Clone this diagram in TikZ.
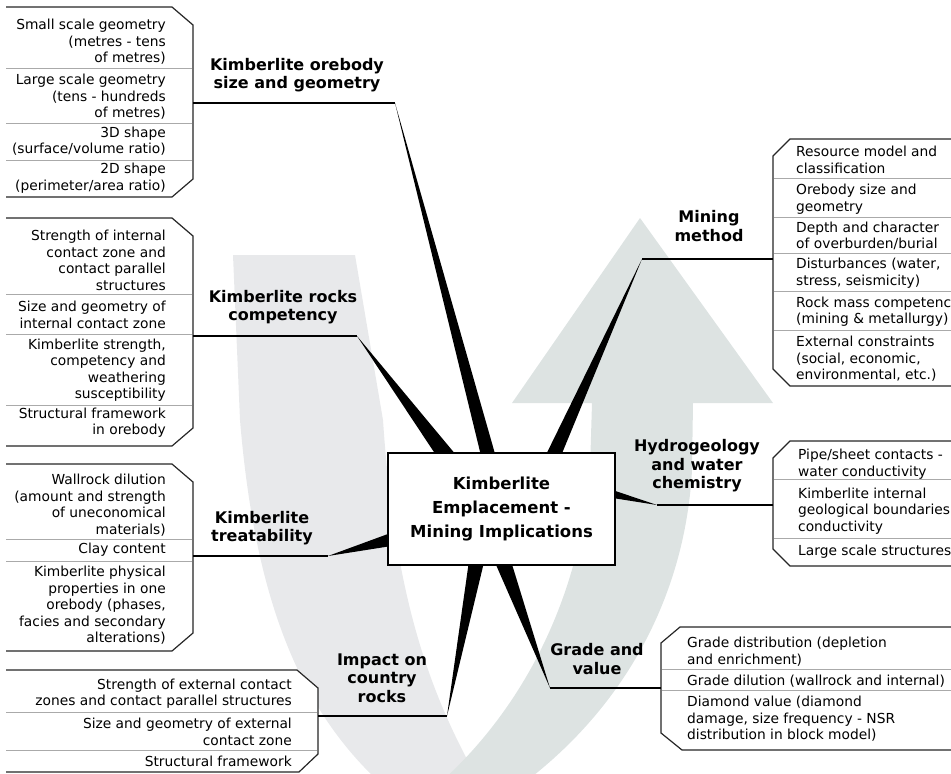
\documentclass[tikz,border=0pt]{standalone}
\usepackage{fontspec}
\setmainfont{DejaVu Sans}
\usepackage{tikz}
\usetikzlibrary{calc}
\definecolor{bandgrey}{RGB}{232,233,235}
\definecolor{bandgreen}{RGB}{221,227,226}
\definecolor{divgrey}{RGB}{170,170,170}
\tikzstyle{item} = [inner sep=0pt, font=\fontsize{13.8}{16.5}\selectfont]
\tikzstyle{leftitem} = [item, anchor=east, align=right]
\tikzstyle{rightitem} = [item, anchor=west, align=left]
\tikzstyle{topic} = [inner sep=0pt, align=center, font=\fontsize{16}{18.5}\selectfont\bfseries]
\tikzstyle{lead} = [line width=1.3pt, black]
\tikzstyle{listbox} = [line width=1.2pt, draw=black!85, fill=white]
\tikzstyle{divider} = [line width=0.8pt, divgrey]

\begin{document}
\begin{tikzpicture}[x=1pt, y=-1pt]
    \tikzset{spoke/.style = {fill=black},
    hubbox/.style = {draw, line width=2.5pt, fill=white, minimum width=227pt, minimum height=112pt, align=center, font=\fontsize{16.5}{24}\selectfont\bfseries}}

\clip (0,0) rectangle (951,774);

\fill[bandgrey] (233,255) -- (355,255) -- (383,420) .. controls (395,600) and (430,700) .. (490,800) -- (400,800) .. controls (300,720) and (255,600) .. (240,420) -- cycle;
\fill[bandgreen] (592,403) -- (512,403) -- (640,218) -- (773,403) -- (693,403) -- (692,470) .. controls (685,600) and (620,720) .. (500,800) -- (420,800) .. controls (520,720) and (580,600) .. (590,470) -- cycle;

\filldraw[listbox] (6,7) -- (172,7) -- (193,25) -- (193,179) -- (172,197) -- (6,197);
\draw[divider] (6,68) -- (192,68) (6,123) -- (192,123) (6,160) -- (192,160);
\filldraw[listbox] (6,218) -- (172,218) -- (193,236) -- (193,428) -- (172,446) -- (6,446);
\draw[divider] (6,294) -- (192,294) (6,334) -- (192,334) (6,405) -- (192,405);
\filldraw[listbox] (6,464) -- (172,464) -- (193,482) -- (193,633) -- (172,651) -- (6,651);
\draw[divider] (6,539) -- (192,539) (6,561) -- (192,561);
\filldraw[listbox] (6,670) -- (297,670) -- (318,688) -- (318,754) -- (299,772) -- (6,772);
\draw[divider] (6,712) -- (317,712) (6,750) -- (317,750);
\filldraw[listbox] (960,139) -- (790,139) -- (773,156) -- (773,369) -- (790,386) -- (960,386);
\draw[divider] (774,178) -- (960,178) (774,217) -- (960,217) (774,253) -- (960,253) (774,291) -- (960,291) (774,330) -- (960,330);
\filldraw[listbox] (960,441) -- (790,441) -- (773,458) -- (773,549) -- (790,566) -- (960,566);
\draw[divider] (774,479) -- (960,479) (774,538) -- (960,538);
\filldraw[listbox] (960,627) -- (680,627) -- (661,643) -- (661,733) -- (682,750) -- (960,750);
\draw[divider] (662,669) -- (960,669) (662,690) -- (960,690);

\coordinate (oreEdge) at (193,103);
\coordinate (oreKnee) at (395,103);
\coordinate (oreIn) at (501,504);
\coordinate (compEdge) at (193,336);
\coordinate (compKnee) at (357,336);
\coordinate (compIn) at (456,469);
\coordinate (treatEdge) at (193,556);
\coordinate (treatKnee) at (328,556);
\coordinate (treatIn) at (405,536);
\coordinate (impEdge) at (318,716);
\coordinate (impKnee) at (447,716);
\coordinate (impIn) at (480,543);
\coordinate (mineEdge) at (773,259);
\coordinate (mineKnee) at (642,259);
\coordinate (mineIn) at (542,481);
\coordinate (hydroEdge) at (773,505);
\coordinate (hydroKnee) at (657,505);
\coordinate (hydroIn) at (604,492);
\coordinate (gradeEdge) at (661,688);
\coordinate (gradeKnee) at (550,688);
\coordinate (gradeIn) at (498,548);

\draw[lead] (oreEdge) -- (oreKnee);
\draw[lead] (compEdge) -- (compKnee);
\draw[lead] (treatEdge) -- (treatKnee);
\draw[lead] (impEdge) -- (impKnee);
\draw[lead] (mineEdge) -- (mineKnee);
\draw[lead] (hydroEdge) -- (hydroKnee);
\draw[lead] (gradeEdge) -- (gradeKnee);

\fill[spoke] (oreKnee) -- ($(oreIn)!8pt!90:(oreKnee)$) -- ($(oreIn)!8pt!-90:(oreKnee)$) -- cycle;
\fill[spoke] (compKnee) -- ($(compIn)!9pt!90:(compKnee)$) -- ($(compIn)!9pt!-90:(compKnee)$) -- cycle;
\fill[spoke] (treatKnee) -- ($(treatIn)!7.8pt!90:(treatKnee)$) -- ($(treatIn)!7.8pt!-90:(treatKnee)$) -- cycle;
\fill[spoke] (impKnee) -- ($(impIn)!8.4pt!90:(impKnee)$) -- ($(impIn)!8.4pt!-90:(impKnee)$) -- cycle;
\fill[spoke] (mineKnee) -- ($(mineIn)!8pt!90:(mineKnee)$) -- ($(mineIn)!8pt!-90:(mineKnee)$) -- cycle;
\fill[spoke] (hydroKnee) -- ($(hydroIn)!4.6pt!90:(hydroKnee)$) -- ($(hydroIn)!4.6pt!-90:(hydroKnee)$) -- cycle;
\fill[spoke] (gradeKnee) -- ($(gradeIn)!8.6pt!90:(gradeKnee)$) -- ($(gradeIn)!8.6pt!-90:(gradeKnee)$) -- cycle;

\node (hub) [hubbox] at (501.5,509) {Kimberlite\\Emplacement -\\Mining Implications};

\node (oreLab) [topic] at (297,75) {Kimberlite orebody\\size and geometry};
\node (compLab) [topic] at (283,307) {Kimberlite rocks\\competency};
\node (treatLab) [topic] at (262,528) {Kimberlite\\treatability};
\node (impLab) [topic] at (382,678) {Impact on\\country\\rocks};
\node (mineLab) [topic] at (709,226) {Mining\\method};
\node (hydroLab) [topic] at (697,466) {Hydrogeology\\and water\\chemistry};
\node (gradeLab) [topic] at (597,659) {Grade and\\value};

\node (ore1) [leftitem] at (166,42) {Small scale geometry\\(metres - tens\\of metres)};
\node (ore2) [leftitem] at (166,97) {Large scale geometry\\(tens - hundreds\\of metres)};
\node (ore3) [leftitem] at (166,141) {3D shape\\(surface/volume ratio)};
\node (ore4) [leftitem] at (166,178) {2D shape\\(perimeter/area ratio)};

\node (comp1) [leftitem] at (166,260.5) {Strength of internal\\contact zone and\\contact parallel\\structures};
\node (comp2) [leftitem] at (166,315) {Size and geometry of\\internal contact zone};
\node (comp3) [leftitem] at (166,370) {Kimberlite strength,\\competency and\\weathering\\susceptibility};
\node (comp4) [leftitem] at (166,422.5) {Structural framework\\in orebody};

\node (treat1) [leftitem] at (166,505) {Wallrock dilution\\(amount and strength\\of uneconomical\\materials)};
\node (treat2) [leftitem] at (166,550) {Clay content};
\node (treat3) [leftitem] at (166,605.5) {Kimberlite physical\\properties in one\\orebody (phases,\\facies and secondary\\alterations)};

\node (imp1) [leftitem] at (292,693.5) {Strength of external contact\\zones and contact parallel structures};
\node (imp2) [leftitem] at (292,732) {Size and geometry of external\\contact zone};
\node (imp3) [leftitem] at (292,761) {Structural framework};

\node (mine1) [rightitem] at (796,160) {Resource model and\\classification};
\node (mine2) [rightitem] at (796,199) {Orebody size and\\geometry};
\node (mine3) [rightitem] at (796,236) {Depth and character\\of overburden/burial};
\node (mine4) [rightitem] at (796,273) {Disturbances (water,\\stress, seismicity)};
\node (mine5) [rightitem] at (796,311.5) {Rock mass competency\\(mining \& metallurgy)};
\node (mine6) [rightitem] at (796,359) {External constraints\\(social, economic,\\environmental, etc.)};

\node (hydro1) [rightitem] at (798,464) {Pipe/sheet contacts -\\water conductivity};
\node (hydro2) [rightitem] at (798,511) {Kimberlite internal\\geological boundaries\\conductivity};
\node (hydro3) [rightitem] at (798,552) {Large scale structures};

\node (grade1) [rightitem] at (687,651.5) {Grade distribution (depletion\\and enrichment)};
\node (grade2) [rightitem] at (687,681) {Grade dilution (wallrock and internal)};
\node (grade3) [rightitem] at (687,719) {Diamond value (diamond\\damage, size frequency - NSR\\distribution in block model)};

\end{tikzpicture}
\end{document}
